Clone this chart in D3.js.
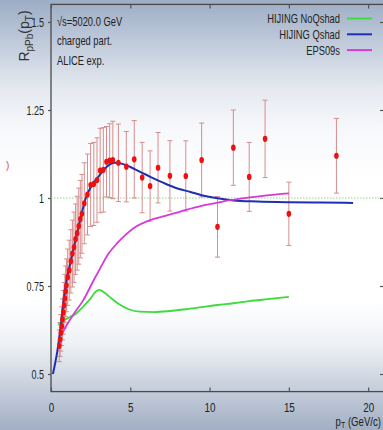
<!DOCTYPE html>
<html><head><meta charset="utf-8">
<script src="https://cdn.jsdelivr.net/npm/d3@7"></script>
<style>html,body{margin:0;padding:0;overflow:hidden}svg{display:block}</style>
</head><body><svg id="c" width="383" height="430"></svg>
<script>
// ---- data ----
const pT = [0.525,0.575,0.625,0.675,0.725,0.775,0.825,0.875,0.925,0.975,1.05,1.15,1.25,1.35,1.45,1.55,1.65,1.75,1.85,1.95,2.1,2.3,2.5,2.7,2.9,3.1,3.3,3.5,3.7,3.9,4.25,4.75,5.25,5.75,6.25,6.75,7.5,8.5,9.5,10.5,11.5,12.5,13.5,15,18];
const rpPb = [0.58,0.598,0.617,0.636,0.655,0.675,0.695,0.715,0.735,0.752,0.775,0.795,0.82,0.842,0.86,0.883,0.90,0.92,0.94,0.955,0.985,1.01,1.037,1.04,1.051,1.078,1.08,1.103,1.106,1.108,1.10,1.089,1.11,1.058,1.034,1.086,1.063,1.0625,1.108,0.918,1.143,1.06,1.168,0.955,1.12];
const rpPbErr = [0.045,0.048,0.052,0.055,0.058,0.062,0.065,0.068,0.072,0.075,0.08,0.085,0.09,0.095,0.1,0.1,0.105,0.108,0.11,0.112,0.115,0.115,0.118,0.118,0.12,0.12,0.12,0.10,0.105,0.11,0.11,0.10,0.11,0.10,0.10,0.10,0.10,0.10,0.105,0.086,0.107,0.098,0.11,0.09,0.106];

const noQshadPt = [0.45,0.8,1.2,1.6,2.0,2.5,2.8,3.05,3.4,3.8,4.3,4.9,5.6,6.5,7.5,8.5,9.5,10.5,11.5,12.5,13.5,15.0];
const noQshadR  = [0.64,0.652,0.662,0.672,0.69,0.715,0.733,0.739,0.73,0.715,0.698,0.684,0.677,0.676,0.679,0.684,0.69,0.696,0.701,0.707,0.712,0.719];

const qshadPt = [0.12,0.4,0.6,0.9,1.2,1.5,1.8,2.0,2.2,2.5,2.8,3.1,3.5,4.0,4.5,5.0,5.5,6.0,6.5,7.0,7.8,8.8,9.5,10.5,11.5,13,15,17,19.05];
const qshadR  = [0.5,0.565,0.63,0.745,0.812,0.872,0.93,0.968,1.0,1.03,1.05,1.067,1.088,1.10,1.097,1.088,1.077,1.066,1.055,1.045,1.03,1.017,1.008,0.999,0.993,0.99,0.988,0.987,0.986];

const eps09Pt = [0.55,0.75,1.0,1.5,2.0,2.7,3.1,3.6,4.16,4.7,5.2,6.27,7.0,7.74,8.5,9.43,10.3,11.3,12.4,13.5,15.0];
const eps09R  = [0.612,0.62,0.64,0.675,0.707,0.767,0.80,0.84,0.871,0.895,0.914,0.9375,0.947,0.956,0.966,0.977,0.985,0.994,1.001,1.007,1.013];

const xTicks = [0,5,10,15,20];
const yTicks = [0.5,0.75,1,1.25,1.5];
const legendNames = ["HIJING NoQshad","HIJING Qshad","EPS09s"];
const legendColors = ["#3ddc3d","#1f2fb0","#d63ad6"];
const infoLines = ["\u221As=5020.0 GeV","charged part.","ALICE exp."];

// ---- drawing ----
const FONT = "'Liberation Sans',Arial,Helvetica,sans-serif";
const SQ = 0.72;
function squeeze(sel, s){
  sel.each(function(){
    const t = d3.select(this);
    const ax = +t.attr("x") || 0;
    const prev = t.attr("transform") || "";
    t.attr("transform", prev + ` translate(${ax*(1-s)},0) scale(${s},1)`);
  });
}
const W = 383, H = 430;
const svg = d3.select("#c");
const defs = svg.append("defs");
const grad = defs.append("linearGradient").attr("id","bg").attr("x1",0).attr("y1",0).attr("x2",0).attr("y2",1);
[[0,"#9dadc5"],[0.08,"#b9c5d7"],[0.2,"#e3e8ef"],[0.3,"#f7f8fb"],[0.42,"#ffffff"],[0.7,"#ffffff"],[0.8,"#eef1f5"],[0.9,"#c8d0dd"],[1,"#a1aec4"]]
  .forEach(([o,c])=>grad.append("stop").attr("offset",o).attr("stop-color",c));
svg.append("rect").attr("width",W).attr("height",H).attr("fill","url(#bg)");

const x = d3.scaleLinear().domain([0,21]).range([51,384]);
const y = d3.scaleLinear().domain([0.45,1.55]).range([391.6,4.4]);

// frame
svg.append("rect").attr("x",x(0)).attr("y",y(1.55)).attr("width",x(21)-x(0)).attr("height",y(0.45)-y(1.55))
  .attr("fill","none").attr("stroke","#4a4a4a").attr("stroke-width",1.3);

// axes
const xAxis = svg.append("g").attr("transform",`translate(0,${y(0.45)})`)
  .call(d3.axisBottom(x).tickValues(xTicks).tickFormat(d3.format("d")).tickSizeInner(-4).tickSizeOuter(0).tickPadding(10.8));
const xTop = svg.append("g").attr("transform",`translate(0,${y(1.55)})`)
  .call(d3.axisTop(x).tickValues(xTicks).tickFormat("").tickSizeInner(-4).tickSizeOuter(0));
const yAxis = svg.append("g").attr("transform",`translate(${x(0)},0)`)
  .call(d3.axisLeft(y).tickValues(yTicks).tickFormat(d3.format("")).tickSizeInner(3).tickSizeOuter(0).tickPadding(4));
const yRight = svg.append("g").attr("transform",`translate(${x(21)},0)`)
  .call(d3.axisRight(y).tickValues(yTicks).tickFormat("").tickSizeInner(-4).tickSizeOuter(0));
[xAxis,xTop,yAxis,yRight].forEach(g=>{
  g.select(".domain").remove();
  g.selectAll(".tick line").attr("stroke","#555").attr("stroke-width",1.2);
  g.selectAll("text").attr("font-family",FONT).attr("fill","#222");
});
xAxis.selectAll("text").attr("font-size",13);
yAxis.selectAll("text").attr("font-size",12.5);
squeeze(xAxis.selectAll("text"), 0.76);
squeeze(yAxis.selectAll("text"), SQ);

// y axis title
const yt = svg.append("text").attr("transform","translate(29,36) rotate(-90)")
  .attr("text-anchor","middle").attr("font-family",FONT).attr("font-size",14).attr("fill","#333");
yt.append("tspan").text("R");
yt.append("tspan").attr("font-size",10).attr("dy",4).text("pPb");
yt.append("tspan").attr("dy",-4).text("(p");
yt.append("tspan").attr("font-size",10).attr("dy",4).text("T");
yt.append("tspan").attr("dy",-4).text(")");

// x axis title
const xt = svg.append("text").attr("x",381).attr("y",426.5).attr("text-anchor","end")
  .attr("font-family",FONT).attr("font-size",13).attr("fill","#222");
xt.append("tspan").text("p");
xt.append("tspan").attr("font-size",9.5).attr("dy",2).text("T");
xt.append("tspan").attr("dy",-2).text(" (GeV/c)");
squeeze(xt, 0.74);

// stray red glyph at left
svg.append("text").attr("x",6).attr("y",169).attr("font-family",FONT).attr("font-size",10).attr("fill","#e04848").text(")");

// reference line at 1
svg.append("line").attr("x1",x(0)).attr("x2",x(21)).attr("y1",y(1)).attr("y2",y(1))
  .attr("stroke","#8fd88f").attr("stroke-width",1.2).attr("stroke-dasharray","1.5,1.5");

// error bars
const eb = svg.append("g").attr("stroke","#cf7c7c").attr("stroke-width",1).attr("opacity",0.85);
pT.forEach((p,i)=>{
  const cx = x(p), y1 = y(rpPb[i]+rpPbErr[i]), y0 = y(rpPb[i]-rpPbErr[i]);
  eb.append("line").attr("x1",cx).attr("x2",cx).attr("y1",y1).attr("y2",y0);
  eb.append("line").attr("x1",cx-2.5).attr("x2",cx+2.5).attr("y1",y1).attr("y2",y1);
  eb.append("line").attr("x1",cx-2.5).attr("x2",cx+2.5).attr("y1",y0).attr("y2",y0);
});

// curves
const line = d3.line().x(d=>x(d[0])).y(d=>y(d[1])).curve(d3.curveMonotoneX);
const curves = [[noQshadPt,noQshadR],[qshadPt,qshadR],[eps09Pt,eps09R]];
curves.forEach(([xs,ys],k)=>{
  svg.append("path").datum(xs.map((v,i)=>[v,ys[i]])).attr("d",line)
    .attr("fill","none").attr("stroke",legendColors[k]).attr("stroke-width",k===1?2:1.8);
});

// data points
svg.append("g").selectAll("ellipse").data(pT).join("ellipse")
  .attr("cx",d=>x(d)).attr("cy",(d,i)=>y(rpPb[i])).attr("rx",2.3).attr("ry",3.1).attr("fill","#ee1010");

// legend
legendNames.forEach((n,i)=>{
  const ly = 18.5 + i*15.8;
  const t = svg.append("text").attr("x",340).attr("y",ly+4.5).attr("text-anchor","end")
    .attr("font-family",FONT).attr("font-size",13).attr("fill","#222").text(n);
  squeeze(t, SQ);
  svg.append("line").attr("x1",347).attr("x2",372).attr("y1",ly).attr("y2",ly)
    .attr("stroke",legendColors[i]).attr("stroke-width",2);
});

// info text
infoLines.forEach((t,i)=>{
  const tx = svg.append("text").attr("x",57).attr("y",26+i*19.5).attr("font-family",FONT).attr("font-size",13).attr("fill","#222").text(t);
  squeeze(tx, SQ);
});
</script></body></html>
